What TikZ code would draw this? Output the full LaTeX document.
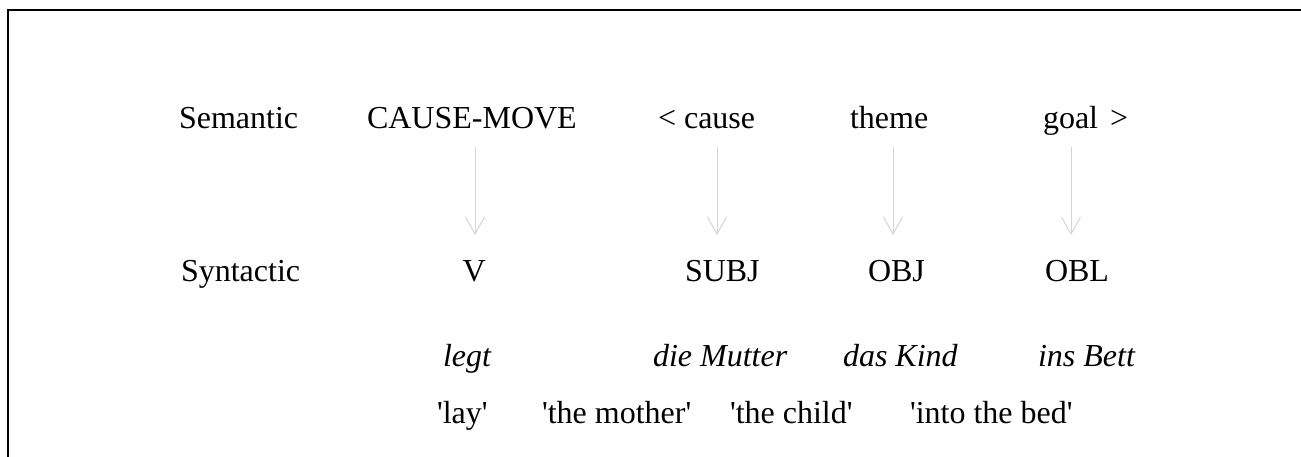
\documentclass[tikz,border=0pt]{standalone}
\usepackage{fontspec}
\setmainfont{Liberation Serif}
\usetikzlibrary{arrows.meta}
\definecolor{maplinecol}{HTML}{D4D4D4}
\begin{document}
\begin{tikzpicture}[x=1pt,y=-1pt,
  lbl/.style={anchor=base west,inner sep=0pt,outer sep=0pt,font=\fontsize{32}{38}\selectfont},
  gloss/.style={lbl,font=\fontsize{32}{38}\selectfont\itshape},
  maparrow/.style={draw=maplinecol,line width=1pt,-{Straight Barb[length=17pt,width=19pt]}}]
\useasboundingbox (0,0) rectangle (1301,457);
% frame edges
\draw[line width=2pt,line cap=rect] (7.8,457) -- (7.8,10.3) -- (1301,10.3);
% semantic row
\node[lbl] (sem)   at (179,129) {Semantic};
\node[lbl] (cm)    at (367,129) {CAUSE-MOVE};
\node[lbl] (cause) at (658,129) {< cause};
\node[lbl] (theme) at (850,129) {theme};
\node[lbl] (goal)  at (1043,129) {goal\hspace{12pt}>};
% syntactic row
\node[lbl] (syn)   at (181,281) {Syntactic};
\node[lbl] (v)     at (462.5,281) {V};
\node[lbl] (subj)  at (685,281) {SUBJ};
\node[lbl] (obj)   at (868,281) {OBJ};
\node[lbl] (obl)   at (1045,281) {OBL};
% German words
\node[gloss] (legt)   at (443,366) {legt};
\node[gloss] (mutter) at (653,366) {die Mutter};
\node[gloss] (kind)   at (843,366) {das Kind};
\node[gloss] (bett)   at (1038,366) {ins Bett};
% English glosses
\node[lbl] (lay)    at (437,423) {\textquotesingle lay\textquotesingle};
\node[lbl] (mother) at (542,423) {\textquotesingle the mother\textquotesingle};
\node[lbl] (child)  at (730,423) {\textquotesingle the child\textquotesingle};
\node[lbl] (bed)    at (910,423) {\textquotesingle into the bed\textquotesingle};
% linking arrows
\draw[maparrow] ([xshift=108pt,yshift=-18pt]cm.base west) -- ([xshift=12.5pt,yshift=46pt]v.base west);
\draw[maparrow] ([xshift=59pt,yshift=-18pt]cause.base west) -- ([xshift=32pt,yshift=46pt]subj.base west);
\draw[maparrow] ([xshift=43pt,yshift=-18pt]theme.base west) -- ([xshift=25pt,yshift=46pt]obj.base west);
\draw[maparrow] ([xshift=28pt,yshift=-18pt]goal.base west) -- ([xshift=26pt,yshift=46pt]obl.base west);
\end{tikzpicture}
\end{document}
